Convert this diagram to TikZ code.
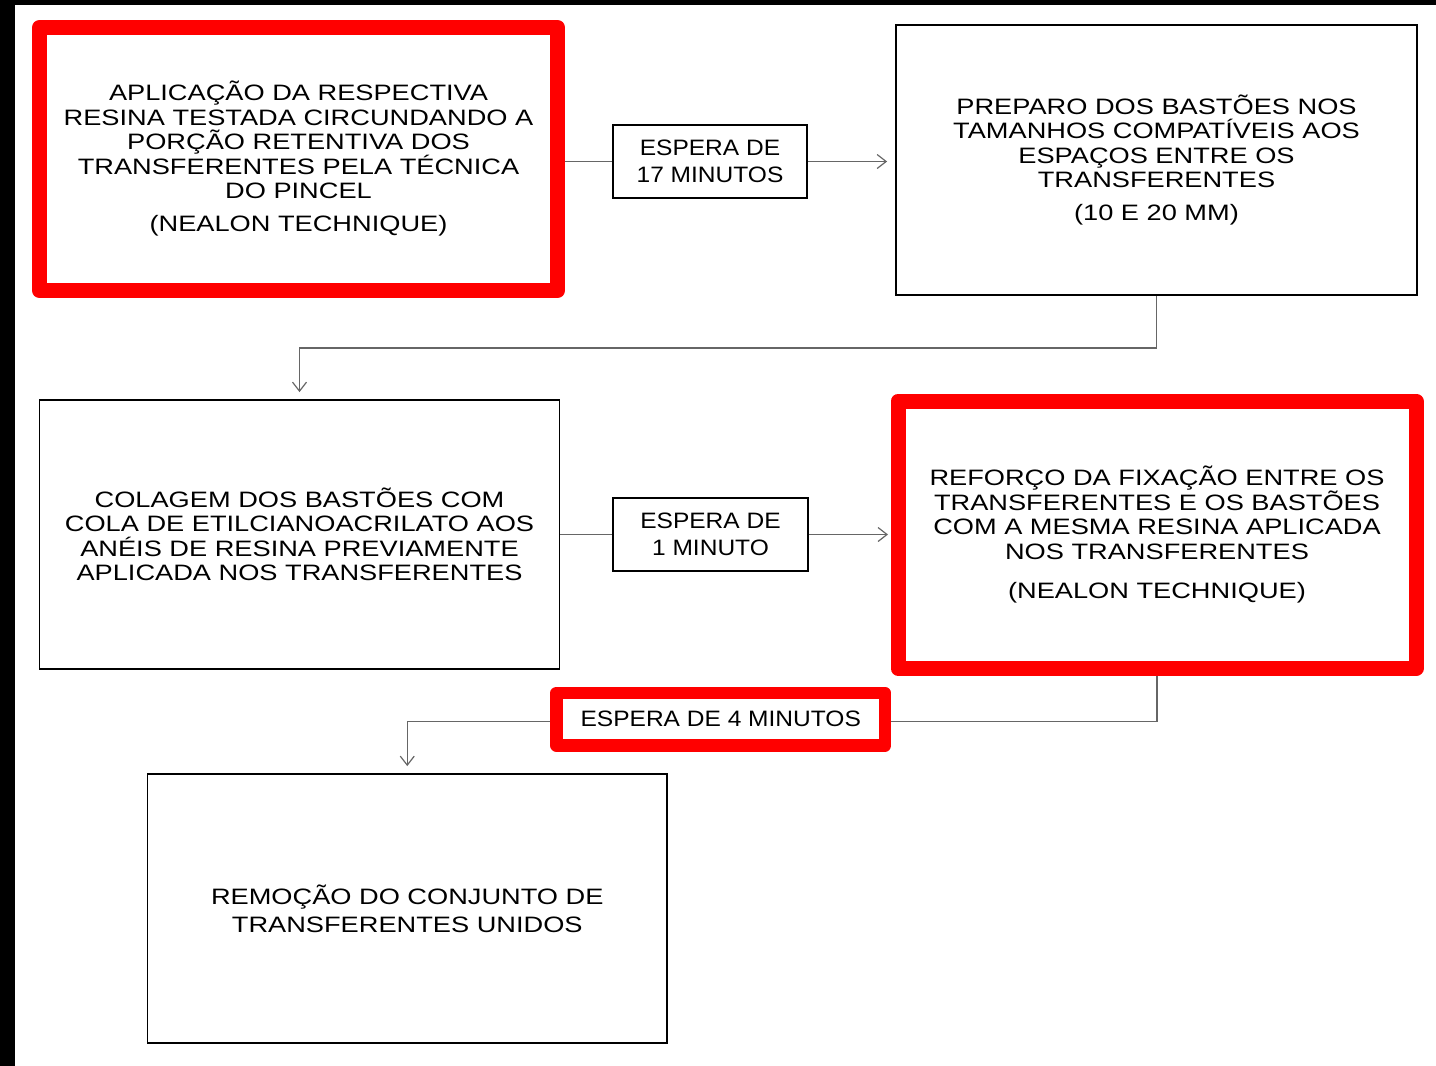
\documentclass[tikz,border=0pt]{standalone}
\usepackage{fontspec}
\setmainfont{Liberation Sans}
\newfontfamily\wideF[FakeStretch=1.22]{Liberation Sans}
\newfontfamily\narrowF[FakeStretch=1.1]{Liberation Sans}
\usetikzlibrary{arrows.meta}
\begin{document}
\begin{tikzpicture}[x=1pt,y=-1pt,
  mainbox/.style={draw=black, line width=1.8pt, inner sep=0pt, align=center,
    font=\wideF\fontsize{22.3}{24.5}\selectfont},
  redbox/.style={draw=red, line width=15pt, line join=round},
  waitbox/.style={draw=black, line width=1.5pt, inner sep=0pt, align=center,
    font=\narrowF\fontsize{22.3}{27}\selectfont},
  redwait/.style={draw=red, line width=12.5pt, line join=round},
  conn/.style={draw=black!60, line width=1.2pt},
  arr/.style={conn, -{Straight Barb[length=9pt,width=14pt]}}
]
\useasboundingbox (0,0) rectangle (1436,1066);
\fill[white] (0,0) rectangle (1436,1066);
\fill[black] (0,0) rectangle (1436,5);
\fill[black] (0,0) rectangle (14.5,1066);

\node[mainbox, redbox, minimum width=518, minimum height=263] (b1) at (298.5,159)
  {APLICAÇÃO DA RESPECTIVA\\RESINA TESTADA CIRCUNDANDO A\\PORÇÃO RETENTIVA DOS\\TRANSFERENTES PELA TÉCNICA\\DO PINCEL\\[8.5pt](NEALON TECHNIQUE)};
\node[mainbox, minimum width=521, minimum height=270] (b2) at (1156.5,160)
  {PREPARO DOS BASTÕES NOS\\TAMANHOS COMPATÍVEIS AOS\\ESPAÇOS ENTRE OS\\TRANSFERENTES\\[8.5pt](10 E 20 MM)};
\node[mainbox, minimum width=520, minimum height=269] (b3) at (299.5,534.5)
  {COLAGEM DOS BASTÕES COM\\COLA DE ETILCIANOACRILATO AOS\\ANÉIS DE RESINA PREVIAMENTE\\APLICADA NOS TRANSFERENTES};
\node[mainbox, redbox, minimum width=518, minimum height=267.5] (b4) at (1157,534.75)
  {REFORÇO DA FIXAÇÃO ENTRE OS\\TRANSFERENTES E OS BASTÕES\\COM A MESMA RESINA APLICADA\\NOS TRANSFERENTES\\[14.5pt](NEALON TECHNIQUE)};
\node[mainbox, minimum width=519.5, minimum height=269] (b5) at (407.25,908.5)
  {REMOÇÃO DO CONJUNTO DE\\[3.5pt]TRANSFERENTES UNIDOS};

\node[waitbox, minimum width=194, minimum height=73] (w1) at (710,161.5) {ESPERA DE\\17 MINUTOS};
\node[waitbox, minimum width=195, minimum height=73] (w2) at (710.5,534.5) {ESPERA DE\\1 MINUTO};
\node[waitbox, redwait, minimum width=328.5, minimum height=52.5] (w3) at (720.75,719.25) {ESPERA DE 4 MINUTOS};

\draw[conn] (w1.west -| b1.east) -- (w1.west);
\draw[arr] (w1.east) -- ([xshift=-8pt]b2.west |- w1.east);
\draw[arr] (b2.south) -- ++(0,52) -| ([yshift=7pt]b3.north);
\draw[conn] (w2.west -| b3.east) -- (w2.west);
\draw[arr] (w2.east) -- ([xshift=-2.5pt]b4.west |- w2.east);
\draw[conn] (b4.south) |- ([yshift=-2.5pt]w3.east);
\draw[arr] ([yshift=-2.5pt]w3.west) -| ([yshift=7pt]b5.north);
\end{tikzpicture}
\end{document}
